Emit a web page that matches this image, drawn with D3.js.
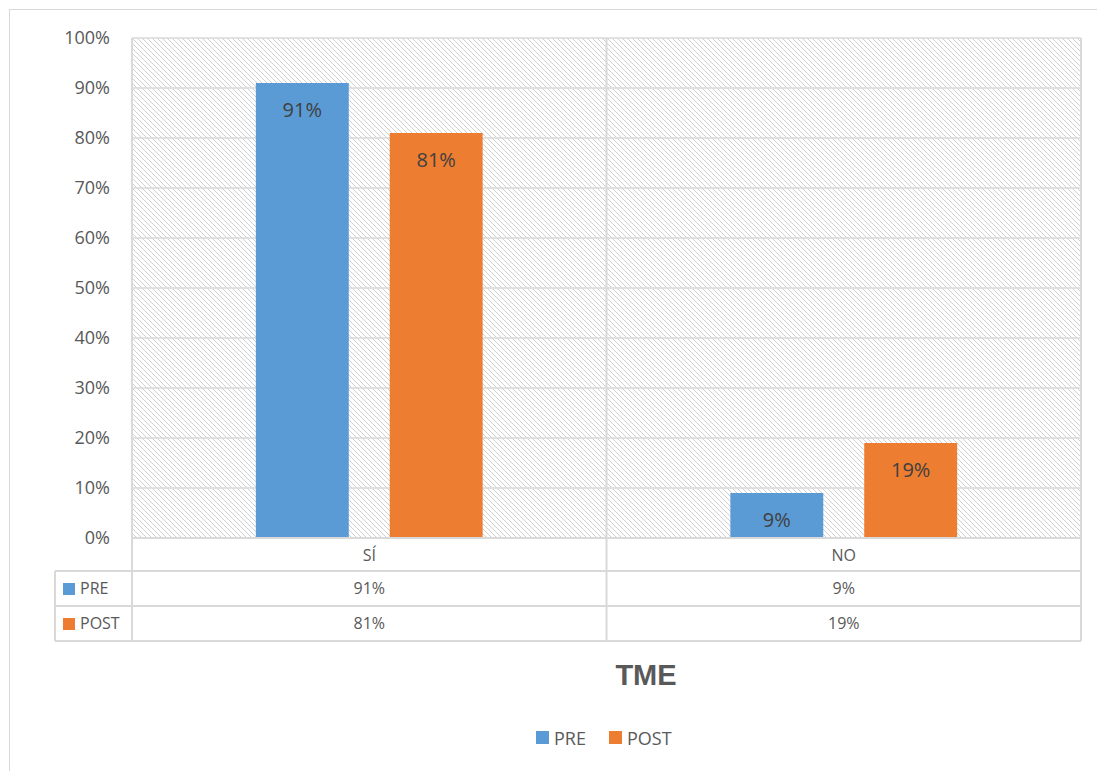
<!DOCTYPE html>
<html>
<head>
<meta charset="utf-8">
<script src="https://cdn.jsdelivr.net/npm/d3@7"></script>
<style>
  body { margin: 0; background: #fff; }
  svg { font-family: "Open Sans", "Liberation Sans", sans-serif; }
</style>
</head>
<body>
<svg id="chart" width="1097" height="771"></svg>
<script>
// chart data
const categories = ["SÍ", "NO"];
const seriesNames = ["PRE", "POST"];
const preValues = [0.91, 0.09];
const postValues = [0.81, 0.19];
const yTicks = [0, 0.1, 0.2, 0.3, 0.4, 0.5, 0.6, 0.7, 0.8, 0.9, 1.0];
const colors = ["#5b9bd5", "#ed7d31"];

const svg = d3.select("#chart");
const plotLeft = 132, plotRight = 1081, plotTop = 38, plotBottom = 538;
const rowH = [33, 35, 35];
const tableLeft = 55;
const grey = "#595959";

// outer frame
svg.append("rect")
    .attr("x", 9.5).attr("y", 9.5)
    .attr("width", 1097).attr("height", 770)
    .attr("fill", "#fff").attr("stroke", "#d9d9d9");

// hatch pattern for plot background (pixel diagonals)
let defs = svg.append("defs");
let pat = defs.append("pattern")
    .attr("id", "hatch")
    .attr("patternUnits", "userSpaceOnUse")
    .attr("x", plotLeft).attr("y", plotTop)
    .attr("width", 5).attr("height", 5);
pat.append("rect").attr("width", 5).attr("height", 5).attr("fill", "#fff");
pat.selectAll("rect.px")
    .data([0, 1, 2, 3, 4])
    .join("rect")
    .attr("class", "px")
    .attr("x", d => d).attr("y", d => d)
    .attr("width", 1).attr("height", 1)
    .attr("fill", "#d0d0d0")
    .attr("shape-rendering", "crispEdges");

svg.append("rect")
    .attr("x", plotLeft).attr("y", plotTop)
    .attr("width", plotRight - plotLeft).attr("height", plotBottom - plotTop)
    .attr("fill", "url(#hatch)");

let y = d3.scaleLinear().domain([0, 1]).range([plotBottom, plotTop]);
let x0 = d3.scaleBand().domain(categories).range([plotLeft, plotRight]);
let x1 = d3.scaleBand().domain(seriesNames).range([0, x0.bandwidth()])
    .paddingInner(0.306).paddingOuter(0.925);

// gridlines
svg.append("g").selectAll("line")
    .data(yTicks)
    .join("line")
    .attr("x1", plotLeft).attr("x2", plotRight)
    .attr("y1", d => y(d)).attr("y2", d => y(d))
    .attr("stroke", "#d9d9d9").attr("stroke-width", 1.5);

// y axis labels
let yAxis = d3.axisLeft(y).tickValues(yTicks).tickFormat(d3.format(".0%")).tickSize(0).tickPadding(22);
let ya = svg.append("g").attr("transform", `translate(${plotLeft},0)`).call(yAxis);
ya.select(".domain").remove();
ya.selectAll("text").attr("font-size", 18).attr("fill", grey)
    .attr("font-family", "'Open Sans', sans-serif");

// bars
let rows = categories.map((c, i) => ({ cat: c, vals: [preValues[i], postValues[i]] }));
let groups = svg.append("g").selectAll("g")
    .data(rows)
    .join("g")
    .attr("transform", d => `translate(${x0(d.cat)},0)`);

groups.selectAll("rect")
    .data(d => d.vals.map((v, j) => ({ s: seriesNames[j], v: v, j: j })))
    .join("rect")
    .attr("x", d => x1(d.s))
    .attr("y", d => y(d.v))
    .attr("width", x1.bandwidth())
    .attr("height", d => plotBottom - y(d.v))
    .attr("fill", d => colors[d.j]);

groups.selectAll("text")
    .data(d => d.vals.map((v, j) => ({ s: seriesNames[j], v: v })))
    .join("text")
    .attr("x", d => x1(d.s) + x1.bandwidth() / 2)
    .attr("y", d => y(d.v) + 34)
    .attr("text-anchor", "middle")
    .attr("font-size", 20)
    .attr("fill", "#404040")
    .text(d => d3.format(".0%")(d.v));

// data table
let tBottom = plotBottom + rowH[0] + rowH[1] + rowH[2];
let tg = svg.append("g").attr("stroke", "#d9d9d9").attr("stroke-width", 2).attr("fill", "none");
tg.append("line").attr("x1", plotLeft).attr("x2", plotRight).attr("y1", plotBottom).attr("y2", plotBottom);
[plotBottom + rowH[0], plotBottom + rowH[0] + rowH[1], tBottom].forEach(yy => {
    tg.append("line").attr("x1", tableLeft).attr("x2", plotRight).attr("y1", yy).attr("y2", yy);
});
tg.append("line").attr("x1", tableLeft).attr("x2", tableLeft)
    .attr("y1", plotBottom + rowH[0]).attr("y2", tBottom);
[plotLeft, plotLeft + x0.bandwidth(), plotRight].forEach(xx => {
    tg.append("line").attr("x1", xx).attr("x2", xx).attr("y1", plotTop).attr("y2", tBottom);
});

// category labels
svg.append("g").selectAll("text")
    .data(categories)
    .join("text")
    .attr("x", d => x0(d) + x0.bandwidth() / 2)
    .attr("y", plotBottom + 23)
    .attr("text-anchor", "middle")
    .attr("font-size", 16).attr("fill", grey)
    .text(d => d);

// series rows
let seriesRows = [preValues, postValues];
seriesRows.forEach((vals, j) => {
    let rowY = plotBottom + rowH[0] + j * rowH[1];
    svg.append("rect")
        .attr("x", 63).attr("y", rowY + 12)
        .attr("width", 12).attr("height", 12)
        .attr("fill", colors[j]);
    svg.append("text")
        .attr("x", 80).attr("y", rowY + 23)
        .attr("font-size", 16).attr("fill", grey)
        .text(seriesNames[j]);
    svg.append("g").selectAll("text")
        .data(vals)
        .join("text")
        .attr("x", (d, i) => x0(categories[i]) + x0.bandwidth() / 2)
        .attr("y", rowY + 23)
        .attr("text-anchor", "middle")
        .attr("font-size", 16).attr("fill", grey)
        .text(d => d3.format(".0%")(d));
});

// title
svg.append("text")
    .attr("x", 646).attr("y", 685)
    .attr("text-anchor", "middle")
    .attr("font-family", "'Liberation Sans', Arial, sans-serif")
    .attr("font-weight", "bold")
    .attr("font-size", 29)
    .attr("fill", grey)
    .text("TME");

// legend
let lg = svg.append("g").attr("transform", "translate(536,731)");
let items = lg.selectAll("g")
    .data(seriesNames)
    .join("g")
    .attr("transform", (d, i) => `translate(${i * 73},0)`);
items.append("rect").attr("width", 13).attr("height", 13)
    .attr("fill", (d, i) => colors[i]);
items.append("text").attr("x", 18).attr("y", 14)
    .attr("font-size", 18).attr("fill", grey)
    .text(d => d);
</script>
</body>
</html>
